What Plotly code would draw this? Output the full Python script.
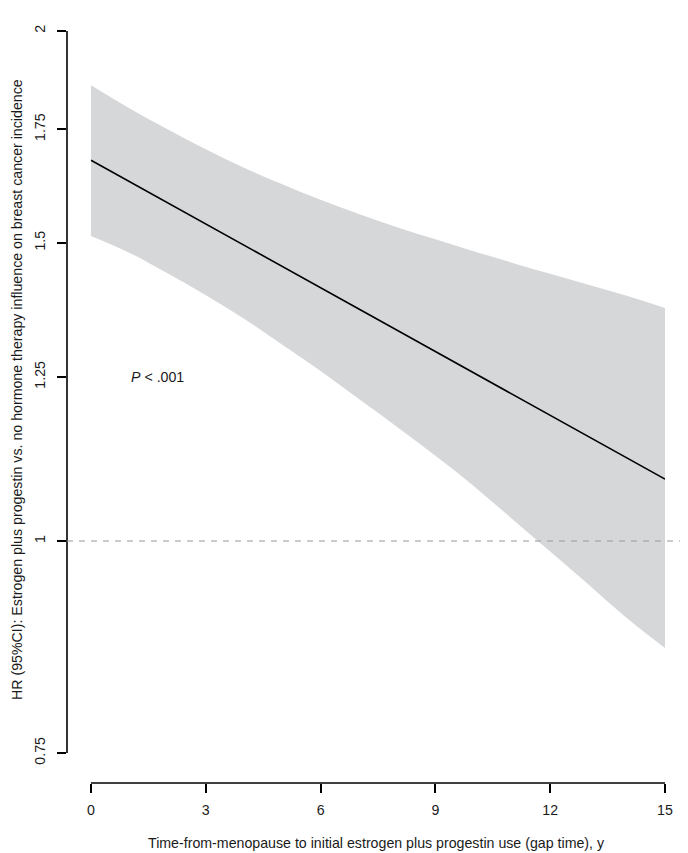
import plotly.graph_objects as go

# gap time (years) and hazard ratio
gap_years = list(range(16))
hr = [1.678, 1.630, 1.584, 1.539, 1.495, 1.452, 1.411, 1.371,
      1.332, 1.294, 1.257, 1.222, 1.187, 1.153, 1.120, 1.088]
ci_upper = [1.858, 1.801, 1.750, 1.703, 1.661, 1.624, 1.590, 1.560,
            1.532, 1.507, 1.483, 1.460, 1.438, 1.417, 1.396, 1.373]
ci_lower = [1.514, 1.480, 1.439, 1.397, 1.353, 1.306, 1.260, 1.213,
            1.168, 1.123, 1.078, 1.031, 0.986, 0.943, 0.901, 0.865]

x_ticks = [0, 3, 6, 9, 12, 15]
y_ticks = [0.75, 1, 1.25, 1.5, 1.75, 2]
y_tick_labels = ["0.75", "1", "1.25", "1.5", "1.75", "2"]

FONT = "Liberation Sans, Arial, sans-serif"
TXT = "#1a1a1a"
FS = 14.2

# the page body has an 8px margin, so shift everything up/left by 8px
OFF = 8
W, H = 688 - OFF, 853 - OFF
left, right, top, bottom = 67 - OFF, 665 - OFF, 31 - OFF, 783 - OFF
pw, ph = right - left, bottom - top


def px(x):
    return (x - OFF - left) / pw


def py(y):
    return (bottom - (y - OFF)) / ph


fig = go.Figure()

# confidence band
fig.add_trace(go.Scatter(x=gap_years, y=ci_lower, mode="lines",
                         line=dict(width=0, shape="spline"),
                         hoverinfo="skip", showlegend=False))
fig.add_trace(go.Scatter(x=gap_years, y=ci_upper, mode="lines",
                         line=dict(width=0, shape="spline"),
                         fill="tonexty", fillcolor="#d6d7d9",
                         hoverinfo="skip", showlegend=False))

fig.add_trace(go.Scatter(x=gap_years, y=hr, mode="lines",
                         line=dict(color="black", width=1.6),
                         showlegend=False))

# R style detached axes
fig.add_shape(type="line", xref="paper", yref="paper", x0=0, x1=0,
              y0=py(753), y1=py(31), line=dict(color="black", width=1.6))
fig.add_shape(type="line", xref="paper", yref="paper", x0=px(91), x1=1,
              y0=0, y1=0, line=dict(color="black", width=1.6))
# reference line at HR = 1
fig.add_shape(type="line", xref="paper", yref="paper", x0=0, x1=px(690),
              y0=py(541), y1=py(541),
              line=dict(color="#9a9a9a", width=1.2, dash="6px,6px"))

fig.add_annotation(x=1.0, y=0.0969, xref="x", yref="y",
                   text="<i>P</i> < .001", showarrow=False,
                   xanchor="left", yanchor="middle",
                   font=dict(size=FS, color=TXT, family=FONT))

fig.add_annotation(x=px(376), y=py(843), xref="paper", yref="paper",
                   text="Time-from-menopause to initial estrogen plus progestin use (gap time), y",
                   showarrow=False, xanchor="center", yanchor="middle",
                   font=dict(size=FS, color=TXT, family=FONT))
fig.add_annotation(
    text="HR (95%CI): Estrogen plus progestin vs. no hormone therapy influence on breast cancer incidence",
    x=px(17), y=py(390), xref="paper", yref="paper", textangle=-90,
    xanchor="center", yanchor="middle",
    showarrow=False, font=dict(size=FS, color=TXT, family=FONT))

# axis ranges so that 0..15 sits at 91..665 px and 0.75..2 at 753..31 px
x_per_px = 15 / (665 - 91)
x_lo = -(91 - 67) * x_per_px
dec_per_px = 0.425969 / (753 - 31)
y_lo = -0.124939 - (783 - 753) * dec_per_px

fig.update_xaxes(range=[x_lo, 15], tickvals=x_ticks, ticks="outside",
                 ticklen=9, tickwidth=1.6, tickcolor="black",
                 showline=False, showgrid=False, zeroline=False,
                 automargin=False,
                 tickfont=dict(size=FS, color=TXT, family=FONT),
                 ticklabelstandoff=5)
fig.update_yaxes(type="log", range=[y_lo, 0.30103], tickvals=y_ticks,
                 ticktext=y_tick_labels, tickangle=-90, ticks="outside",
                 ticklen=9, tickwidth=1.6, tickcolor="black",
                 showline=False, showgrid=False, zeroline=False,
                 automargin=False,
                 tickfont=dict(size=FS, color=TXT, family=FONT),
                 ticklabelstandoff=6)

fig.update_layout(width=W, height=H, plot_bgcolor="white", paper_bgcolor="white",
                  margin=dict(l=left, r=W - right, t=top, b=H - bottom),
                  showlegend=False)

fig.write_html("out.html")
